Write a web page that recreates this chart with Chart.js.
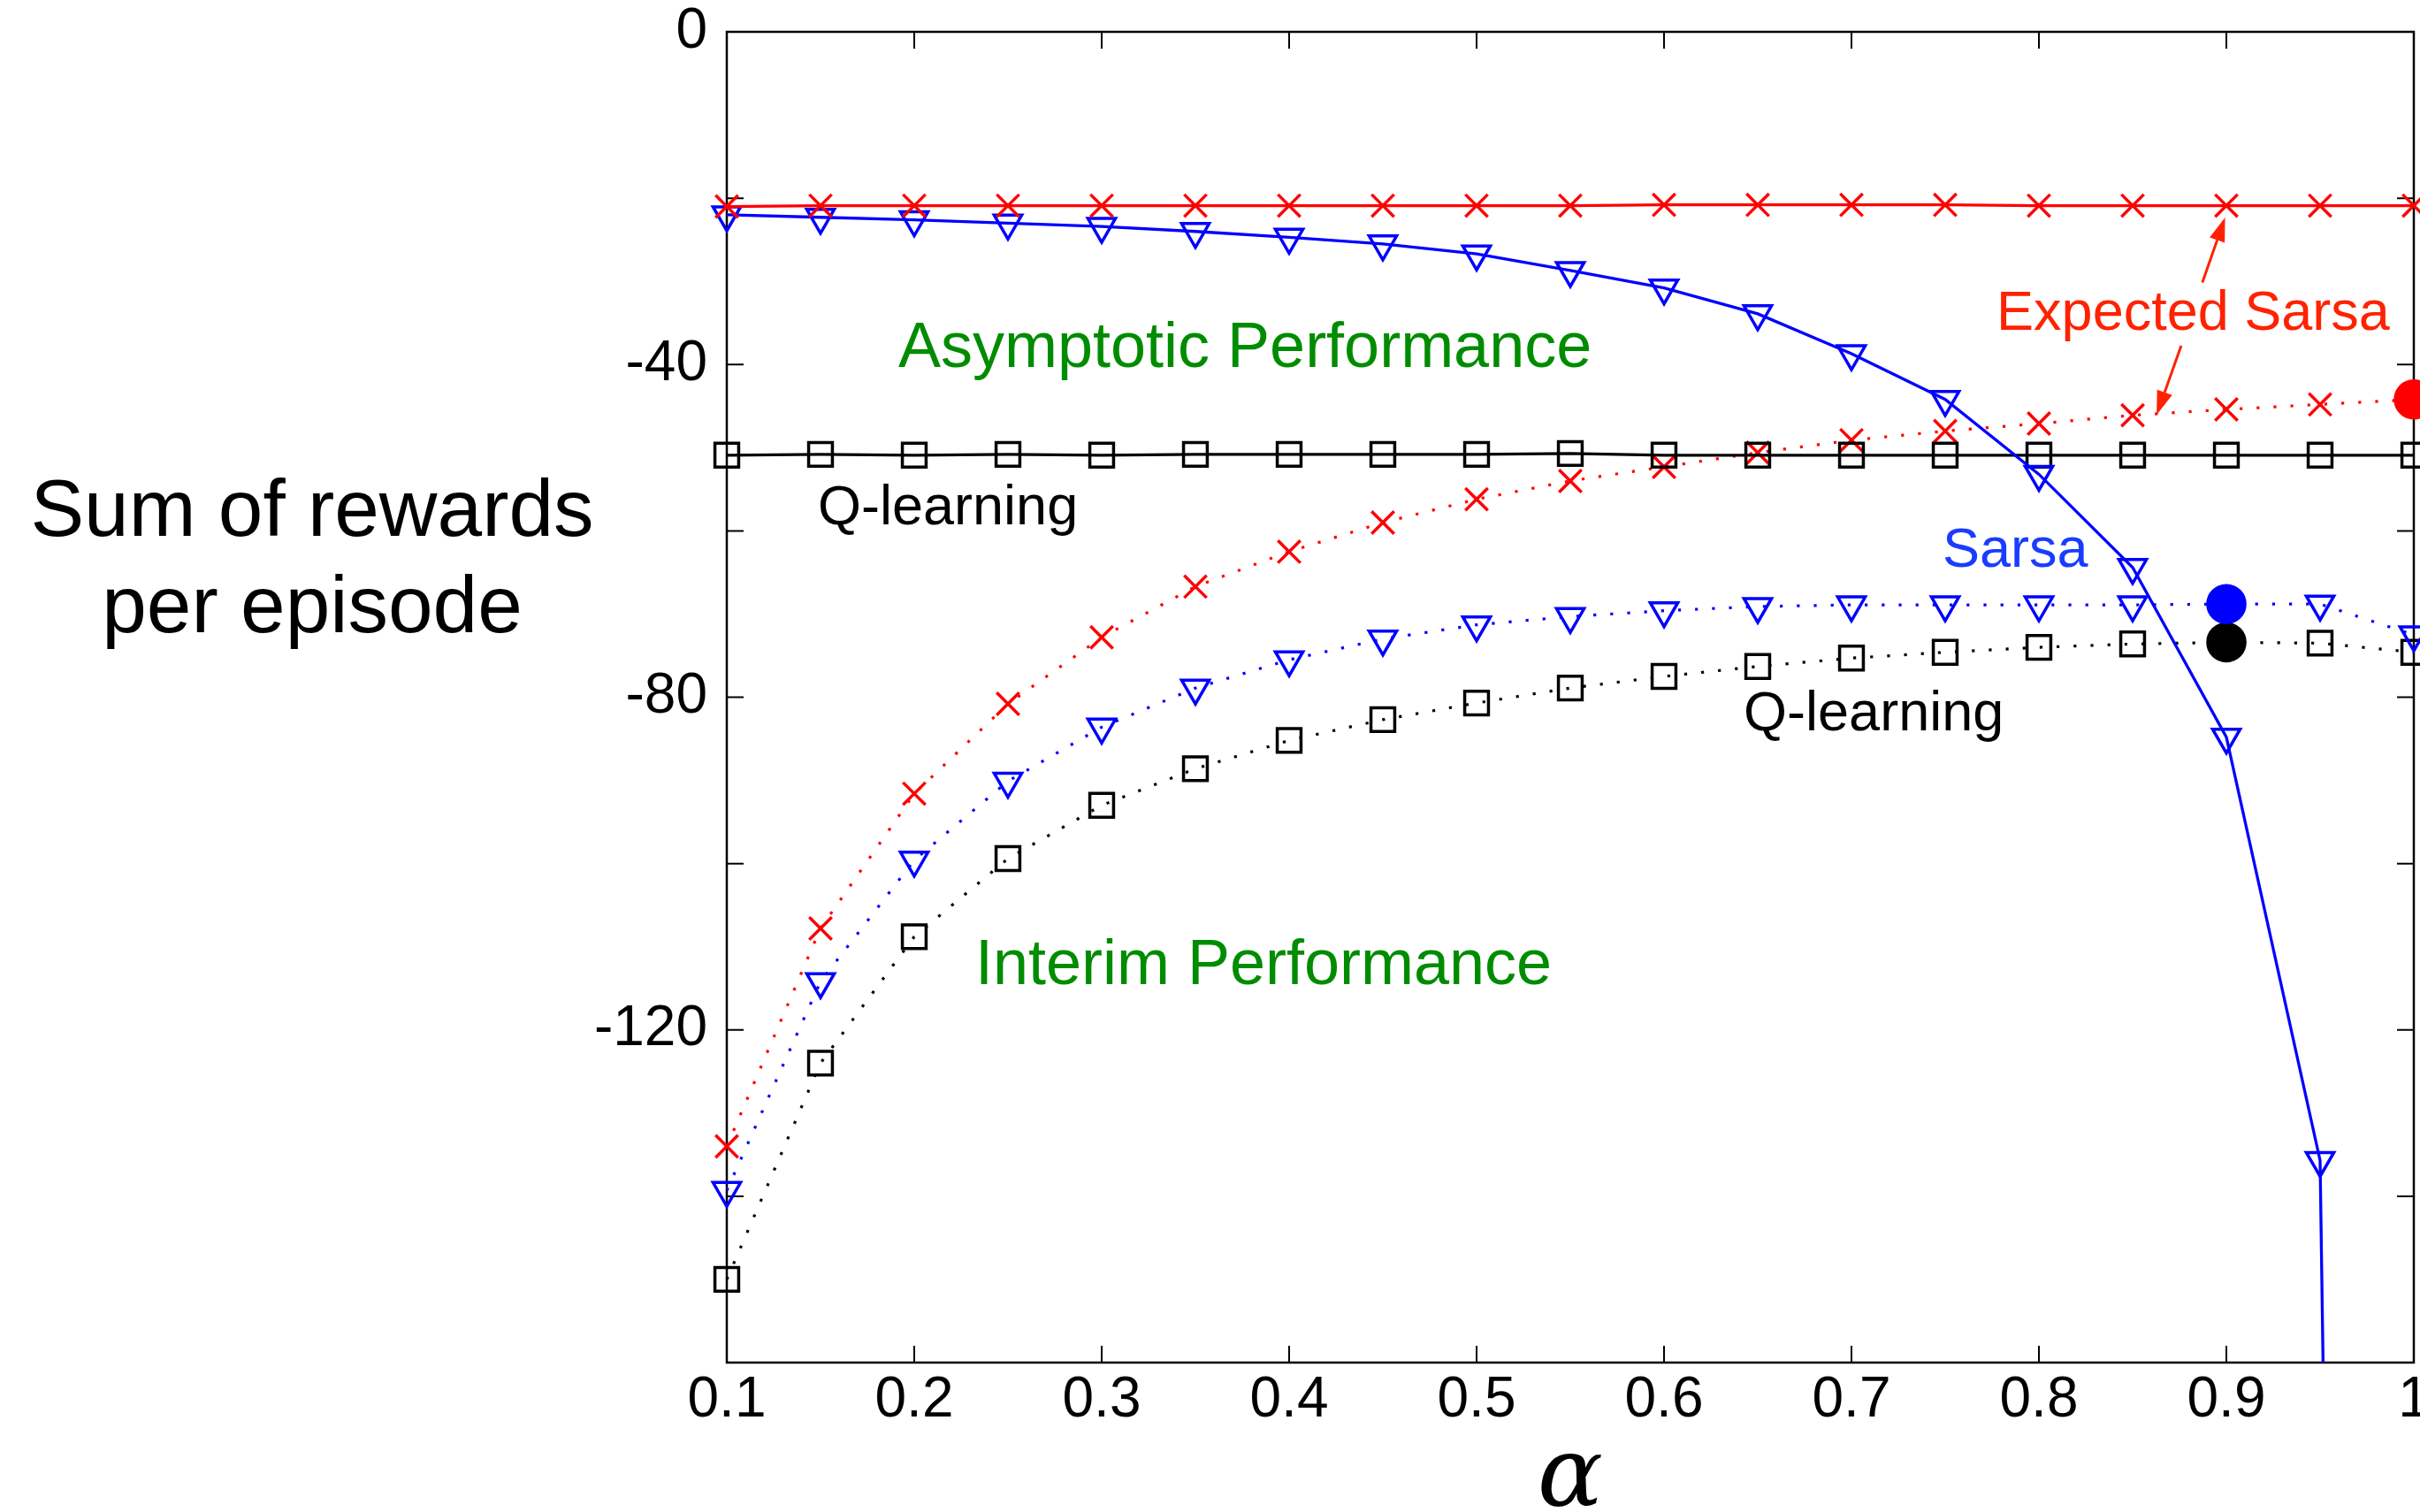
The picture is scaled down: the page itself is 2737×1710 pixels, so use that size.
<!DOCTYPE html>
<html>
<head>
    <title>Sum of rewards per episode vs alpha</title>
    <meta charset="UTF-8">
    <style>body { margin: 0; background: #fff; }</style>
</head>
<body>
<div style="width:2737px;height:1710px"><canvas id="myChart" width="2737" height="1710"></canvas></div>
<script src="https://cdn.jsdelivr.net/npm/chart.js@4.4.0/dist/chart.umd.min.js"></script>
<script>
    // step size alpha
    var alphas = [0.1, 0.15, 0.2, 0.25, 0.3, 0.35, 0.4, 0.45, 0.5, 0.55, 0.6, 0.65, 0.7, 0.75, 0.8, 0.85, 0.9, 0.95, 1.0];

    // asymptotic performance (solid lines)
    var expSarsaAsymptotic = [-21.0, -20.9, -20.9, -20.9, -20.9, -20.9, -20.9, -20.9, -20.9, -20.9, -20.8, -20.8, -20.8, -20.8, -20.9, -20.9, -20.9, -20.9, -20.9];
    var sarsaAsymptotic = [-22.0, -22.3, -22.6, -23.0, -23.4, -24.0, -24.7, -25.5, -26.7, -28.7, -30.8, -33.9, -38.7, -44.2, -53.2, -64.4, -84.8, -135.7, -900];
    var qAsymptotic = [-50.9, -50.8, -50.9, -50.8, -50.9, -50.8, -50.8, -50.8, -50.8, -50.7, -50.9, -50.9, -50.9, -50.9, -50.9, -50.9, -50.9, -50.9, -50.9];

    // interim performance (dotted lines)
    var expSarsaInterim = [-134.0, -107.8, -91.6, -80.8, -72.8, -66.7, -62.5, -59.0, -56.2, -54.0, -52.3, -50.6, -49.1, -48.0, -47.1, -46.1, -45.4, -44.8, -44.2];
    var sarsaInterim = [-139.3, -114.2, -99.6, -90.1, -83.6, -78.9, -75.5, -73.0, -71.3, -70.3, -69.6, -69.1, -68.9, -68.9, -68.9, -68.9, -68.8, -68.8, -72.5];
    var qInterim = [-150.0, -124.0, -108.8, -99.4, -93.0, -88.6, -85.2, -82.7, -80.7, -78.9, -77.5, -76.3, -75.3, -74.6, -74.0, -73.6, -73.4, -73.5, -74.6];

    // best interim alpha of each method (drawn as a filled dot)
    var bestAlpha = {expSarsa: 1.0, sarsa: 0.9, q: 0.9};

    // axes
    var xTicks = [0.1, 0.2, 0.3, 0.4, 0.5, 0.6, 0.7, 0.8, 0.9, 1.0];
    var xTickLabels = ['0.1', '0.2', '0.3', '0.4', '0.5', '0.6', '0.7', '0.8', '0.9', '1'];
    var yTicks = [0, -20, -40, -60, -80, -100, -120, -140, -160];
    var yTickLabels = ['0', '', '-40', '', '-80', '', '-120', '', ''];

    function points(values) {
        return alphas.map(function (a, i) { return {x: a, y: values[i]}; });
    }

    function marker(style, color, best) {
        return {
            pointStyle: function (c) { return alphas[c.dataIndex] === best ? 'circle' : style; },
            pointRadius: function (c) {
                if (alphas[c.dataIndex] === best) return 21;
                return style === 'rect' ? 19 : 18;
            },
            pointRotation: style === 'triangle' ? 180 : 0,
            pointBorderColor: color,
            pointBackgroundColor: function (c) { return alphas[c.dataIndex] === best ? color : 'rgba(0,0,0,0)'; },
            pointBorderWidth: 3.5
        };
    }

    function solid(label, values, style, color) {
        return Object.assign({
            label: label, data: points(values), borderColor: color, borderWidth: 3.3,
            showLine: true, tension: 0, clip: {left: 60, top: 60, right: 60, bottom: 0}
        }, marker(style, color, null));
    }

    function dotted(label, values, style, color, best) {
        return Object.assign({
            label: label, data: points(values), borderColor: color, borderWidth: 3.2,
            borderDash: [3.2, 16], showLine: true, tension: 0, clip: false
        }, marker(style, color, best));
    }

    var notes = [
        {text: 'Asymptotic Performance', x: 0.1915, y: -40.3, color: '#008c00', size: 72},
        {text: 'Interim Performance', x: 0.2325, y: -114.5, color: '#008c00', size: 72},
        {text: 'Q-learning', x: 0.1486, y: -59.2, color: '#000000', size: 63},
        {text: 'Sarsa', x: 0.7486, y: -64.3, color: '#1a3cff', size: 63},
        {text: 'Q-learning', x: 0.6425, y: -84.0, color: '#000000', size: 63},
        {text: 'Expected Sarsa', x: 0.7774, y: -35.8, color: '#ff2200', size: 63}
    ];
    var arrows = [
        {from: [0.8872, -30.15], to: [0.8993, -22.33]},
        {from: [0.8759, -37.74], to: [0.8628, -46.06]}
    ];

    var decorations = {
        id: 'decorations',
        beforeDatasetsDraw: function (chart) {
            var ctx = chart.ctx, a = chart.chartArea, xs = chart.scales.x, ys = chart.scales.y;
            ctx.save();
            ctx.strokeStyle = '#000';
            ctx.lineWidth = 2.5;
            ctx.strokeRect(a.left, a.top, a.right - a.left, a.bottom - a.top);
            ctx.lineWidth = 2;
            ctx.beginPath();
            xTicks.forEach(function (v) {
                var px = xs.getPixelForValue(v);
                ctx.moveTo(px, a.bottom); ctx.lineTo(px, a.bottom - 19);
                ctx.moveTo(px, a.top); ctx.lineTo(px, a.top + 19);
            });
            yTicks.forEach(function (v) {
                var py = ys.getPixelForValue(v);
                ctx.moveTo(a.left, py); ctx.lineTo(a.left + 19, py);
                ctx.moveTo(a.right, py); ctx.lineTo(a.right - 19, py);
            });
            ctx.stroke();
            ctx.restore();
        },
        afterDraw: function (chart) {
            var ctx = chart.ctx, a = chart.chartArea, xs = chart.scales.x, ys = chart.scales.y;
            ctx.save();
            ctx.textBaseline = 'alphabetic';
            ctx.textAlign = 'left';
            notes.forEach(function (n) {
                ctx.fillStyle = n.color;
                ctx.font = n.size + 'px "Liberation Sans", Arial, sans-serif';
                ctx.fillText(n.text, xs.getPixelForValue(n.x), ys.getPixelForValue(n.y));
            });

            // arrows for Expected Sarsa
            ctx.strokeStyle = '#ff2200';
            ctx.fillStyle = '#ff2200';
            ctx.lineWidth = 3;
            arrows.forEach(function (ar) {
                var x0 = xs.getPixelForValue(ar.from[0]), y0 = ys.getPixelForValue(ar.from[1]);
                var x1 = xs.getPixelForValue(ar.to[0]), y1 = ys.getPixelForValue(ar.to[1]);
                var ang = Math.atan2(y1 - y0, x1 - x0), len = 27, half = 9;
                var bx = x1 - len * Math.cos(ang), by = y1 - len * Math.sin(ang);
                ctx.beginPath();
                ctx.moveTo(x0, y0); ctx.lineTo(bx, by);
                ctx.stroke();
                ctx.beginPath();
                ctx.moveTo(x1, y1);
                ctx.lineTo(bx + half * Math.sin(ang), by - half * Math.cos(ang));
                ctx.lineTo(bx - half * Math.sin(ang), by + half * Math.cos(ang));
                ctx.closePath();
                ctx.fill();
            });

            // axis titles
            ctx.fillStyle = '#000';
            ctx.textAlign = 'center';
            ctx.font = '91px "Liberation Sans", Arial, sans-serif';
            ctx.fillText('Sum of rewards', 353, 606);
            ctx.fillText('per episode', 353, 715);
            ctx.font = 'italic 110px "DejaVu Serif", serif';
            ctx.fillText('\u03B1', (a.left + a.right) / 2, 1703);
            ctx.restore();
        }
    };

    var tickFont = {family: 'Liberation Sans', size: 64};
    var ctx = document.getElementById('myChart').getContext('2d');
    var myChart = new Chart(ctx, {
        type: 'scatter',
        data: {
            datasets: [
                solid('Expected Sarsa (asymptotic)', expSarsaAsymptotic, 'crossRot', '#ff0000'),
                solid('Sarsa (asymptotic)', sarsaAsymptotic, 'triangle', '#0000ff'),
                solid('Q-learning (asymptotic)', qAsymptotic, 'rect', '#000000'),
                dotted('Expected Sarsa (interim)', expSarsaInterim, 'crossRot', '#ff0000', bestAlpha.expSarsa),
                dotted('Sarsa (interim)', sarsaInterim, 'triangle', '#0000ff', bestAlpha.sarsa),
                dotted('Q-learning (interim)', qInterim, 'rect', '#000000', bestAlpha.q)
            ]
        },
        options: {
            responsive: false,
            animation: false,
            devicePixelRatio: 1,
            layout: {autoPadding: false, padding: {top: 36, right: 7, bottom: 0, left: 0}},
            plugins: {legend: {display: false}, tooltip: {enabled: false}},
            scales: {
                x: {
                    type: 'linear', min: 0.1, max: 1.0,
                    afterBuildTicks: function (s) { s.ticks = xTicks.map(function (v) { return {value: v}; }); },
                    afterFit: function (s) { s.height = 169; s.paddingLeft = 0; s.paddingRight = 0; },
                    grid: {display: false, drawTicks: false},
                    border: {display: false},
                    ticks: {
                        font: tickFont, color: '#000', padding: 5, maxRotation: 0, autoSkip: false,
                        callback: function (v, i) { return xTickLabels[i]; }
                    }
                },
                y: {
                    type: 'linear', min: -160, max: 0,
                    afterBuildTicks: function (s) { s.ticks = yTicks.map(function (v) { return {value: v}; }); },
                    afterFit: function (s) { s.width = 822; s.paddingTop = 0; s.paddingBottom = 0; },
                    grid: {display: false, drawTicks: false},
                    border: {display: false},
                    ticks: {
                        font: tickFont, color: '#000', padding: 22, autoSkip: false,
                        callback: function (v, i) { return yTickLabels[i]; }
                    }
                }
            }
        },
        plugins: [decorations]
    });
</script>
</body>
</html>
